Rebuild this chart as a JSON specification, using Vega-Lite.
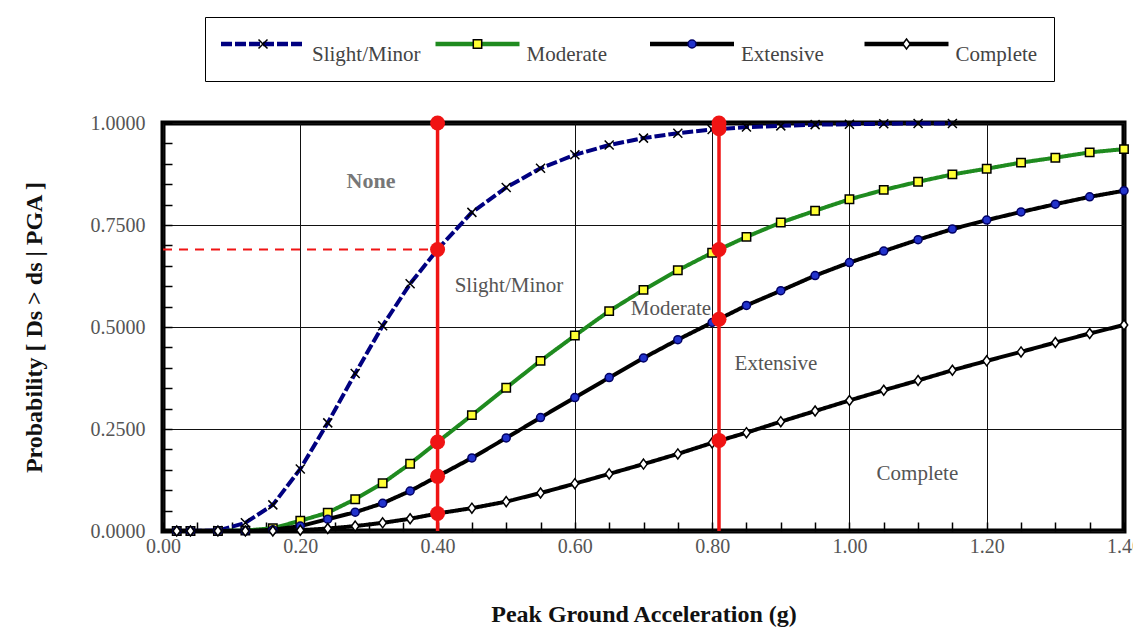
{
  "$schema": "https://vega.github.io/schema/vega-lite/v6.json",
  "width": 961,
  "height": 408,
  "autosize": {"type": "none"},
  "padding": {"left": 163, "top": 123, "right": 9, "bottom": 97},
  "background": "white",
  "config": {
    "view": {"stroke": "black", "strokeWidth": 5},
    "font": "Liberation Serif",
    "axis": {"labelFont": "Liberation Serif", "titleFont": "Liberation Serif"},
    "legend": {"labelFont": "Liberation Serif"},
    "text": {"font": "Liberation Serif"}
  },
  "datasets": {
    "curves": [
      {"series": "Slight/Minor", "pga": 0.02, "p": 0},
      {"series": "Slight/Minor", "pga": 0.04, "p": 0},
      {"series": "Slight/Minor", "pga": 0.08, "p": 0.001},
      {"series": "Slight/Minor", "pga": 0.12, "p": 0.02},
      {"series": "Slight/Minor", "pga": 0.16, "p": 0.064},
      {"series": "Slight/Minor", "pga": 0.20, "p": 0.152},
      {"series": "Slight/Minor", "pga": 0.24, "p": 0.265},
      {"series": "Slight/Minor", "pga": 0.28, "p": 0.386},
      {"series": "Slight/Minor", "pga": 0.32, "p": 0.503},
      {"series": "Slight/Minor", "pga": 0.36, "p": 0.606},
      {"series": "Slight/Minor", "pga": 0.40, "p": 0.69},
      {"series": "Slight/Minor", "pga": 0.45, "p": 0.781},
      {"series": "Slight/Minor", "pga": 0.50, "p": 0.842},
      {"series": "Slight/Minor", "pga": 0.55, "p": 0.889},
      {"series": "Slight/Minor", "pga": 0.60, "p": 0.922},
      {"series": "Slight/Minor", "pga": 0.65, "p": 0.946},
      {"series": "Slight/Minor", "pga": 0.70, "p": 0.963},
      {"series": "Slight/Minor", "pga": 0.75, "p": 0.975},
      {"series": "Slight/Minor", "pga": 0.80, "p": 0.984},
      {"series": "Slight/Minor", "pga": 0.85, "p": 0.99},
      {"series": "Slight/Minor", "pga": 0.90, "p": 0.993},
      {"series": "Slight/Minor", "pga": 0.95, "p": 0.996},
      {"series": "Slight/Minor", "pga": 1.00, "p": 0.997},
      {"series": "Slight/Minor", "pga": 1.05, "p": 0.998},
      {"series": "Slight/Minor", "pga": 1.10, "p": 0.999},
      {"series": "Slight/Minor", "pga": 1.15, "p": 0.999},
      {"series": "Moderate", "pga": 0.02, "p": 0},
      {"series": "Moderate", "pga": 0.04, "p": 0},
      {"series": "Moderate", "pga": 0.08, "p": 0},
      {"series": "Moderate", "pga": 0.12, "p": 0.001},
      {"series": "Moderate", "pga": 0.16, "p": 0.007},
      {"series": "Moderate", "pga": 0.20, "p": 0.025},
      {"series": "Moderate", "pga": 0.24, "p": 0.045},
      {"series": "Moderate", "pga": 0.28, "p": 0.078},
      {"series": "Moderate", "pga": 0.32, "p": 0.117},
      {"series": "Moderate", "pga": 0.36, "p": 0.165},
      {"series": "Moderate", "pga": 0.40, "p": 0.218},
      {"series": "Moderate", "pga": 0.45, "p": 0.284},
      {"series": "Moderate", "pga": 0.50, "p": 0.351},
      {"series": "Moderate", "pga": 0.55, "p": 0.417},
      {"series": "Moderate", "pga": 0.60, "p": 0.479},
      {"series": "Moderate", "pga": 0.65, "p": 0.539},
      {"series": "Moderate", "pga": 0.70, "p": 0.591},
      {"series": "Moderate", "pga": 0.75, "p": 0.639},
      {"series": "Moderate", "pga": 0.80, "p": 0.682},
      {"series": "Moderate", "pga": 0.85, "p": 0.721},
      {"series": "Moderate", "pga": 0.90, "p": 0.756},
      {"series": "Moderate", "pga": 0.95, "p": 0.785},
      {"series": "Moderate", "pga": 1.00, "p": 0.813},
      {"series": "Moderate", "pga": 1.05, "p": 0.836},
      {"series": "Moderate", "pga": 1.10, "p": 0.856},
      {"series": "Moderate", "pga": 1.15, "p": 0.874},
      {"series": "Moderate", "pga": 1.20, "p": 0.888},
      {"series": "Moderate", "pga": 1.25, "p": 0.903},
      {"series": "Moderate", "pga": 1.30, "p": 0.915},
      {"series": "Moderate", "pga": 1.35, "p": 0.928},
      {"series": "Moderate", "pga": 1.40, "p": 0.936},
      {"series": "Extensive", "pga": 0.02, "p": 0},
      {"series": "Extensive", "pga": 0.04, "p": 0},
      {"series": "Extensive", "pga": 0.08, "p": 0},
      {"series": "Extensive", "pga": 0.12, "p": 0},
      {"series": "Extensive", "pga": 0.16, "p": 0.003},
      {"series": "Extensive", "pga": 0.20, "p": 0.012},
      {"series": "Extensive", "pga": 0.24, "p": 0.029},
      {"series": "Extensive", "pga": 0.28, "p": 0.046},
      {"series": "Extensive", "pga": 0.32, "p": 0.068},
      {"series": "Extensive", "pga": 0.36, "p": 0.098},
      {"series": "Extensive", "pga": 0.40, "p": 0.134},
      {"series": "Extensive", "pga": 0.45, "p": 0.179},
      {"series": "Extensive", "pga": 0.50, "p": 0.228},
      {"series": "Extensive", "pga": 0.55, "p": 0.278},
      {"series": "Extensive", "pga": 0.60, "p": 0.327},
      {"series": "Extensive", "pga": 0.65, "p": 0.376},
      {"series": "Extensive", "pga": 0.70, "p": 0.424},
      {"series": "Extensive", "pga": 0.75, "p": 0.469},
      {"series": "Extensive", "pga": 0.80, "p": 0.511},
      {"series": "Extensive", "pga": 0.85, "p": 0.553},
      {"series": "Extensive", "pga": 0.90, "p": 0.589},
      {"series": "Extensive", "pga": 0.95, "p": 0.626},
      {"series": "Extensive", "pga": 1.00, "p": 0.658},
      {"series": "Extensive", "pga": 1.05, "p": 0.686},
      {"series": "Extensive", "pga": 1.10, "p": 0.714},
      {"series": "Extensive", "pga": 1.15, "p": 0.740},
      {"series": "Extensive", "pga": 1.20, "p": 0.762},
      {"series": "Extensive", "pga": 1.25, "p": 0.782},
      {"series": "Extensive", "pga": 1.30, "p": 0.801},
      {"series": "Extensive", "pga": 1.35, "p": 0.819},
      {"series": "Extensive", "pga": 1.40, "p": 0.834},
      {"series": "Complete", "pga": 0.02, "p": 0},
      {"series": "Complete", "pga": 0.04, "p": 0},
      {"series": "Complete", "pga": 0.08, "p": 0},
      {"series": "Complete", "pga": 0.12, "p": 0},
      {"series": "Complete", "pga": 0.16, "p": 0},
      {"series": "Complete", "pga": 0.20, "p": 0.002},
      {"series": "Complete", "pga": 0.24, "p": 0.006},
      {"series": "Complete", "pga": 0.28, "p": 0.012},
      {"series": "Complete", "pga": 0.32, "p": 0.02},
      {"series": "Complete", "pga": 0.36, "p": 0.03},
      {"series": "Complete", "pga": 0.40, "p": 0.043},
      {"series": "Complete", "pga": 0.45, "p": 0.056},
      {"series": "Complete", "pga": 0.50, "p": 0.072},
      {"series": "Complete", "pga": 0.55, "p": 0.093},
      {"series": "Complete", "pga": 0.60, "p": 0.116},
      {"series": "Complete", "pga": 0.65, "p": 0.140},
      {"series": "Complete", "pga": 0.70, "p": 0.164},
      {"series": "Complete", "pga": 0.75, "p": 0.189},
      {"series": "Complete", "pga": 0.80, "p": 0.216},
      {"series": "Complete", "pga": 0.85, "p": 0.241},
      {"series": "Complete", "pga": 0.90, "p": 0.268},
      {"series": "Complete", "pga": 0.95, "p": 0.294},
      {"series": "Complete", "pga": 1.00, "p": 0.320},
      {"series": "Complete", "pga": 1.05, "p": 0.345},
      {"series": "Complete", "pga": 1.10, "p": 0.369},
      {"series": "Complete", "pga": 1.15, "p": 0.394},
      {"series": "Complete", "pga": 1.20, "p": 0.417},
      {"series": "Complete", "pga": 1.25, "p": 0.439},
      {"series": "Complete", "pga": 1.30, "p": 0.462},
      {"series": "Complete", "pga": 1.35, "p": 0.484},
      {"series": "Complete", "pga": 1.40, "p": 0.505}
    ],
    "vlines": [
      {"pga": 0.40, "lo": 0, "hi": 1},
      {"pga": 0.81, "lo": 0, "hi": 1}
    ],
    "hline": [
      {"pga": 0, "pgaEnd": 0.40, "p": 0.69}
    ],
    "redpts": [
      {"pga": 0.40, "p": 1.0},
      {"pga": 0.40, "p": 0.69},
      {"pga": 0.40, "p": 0.218},
      {"pga": 0.40, "p": 0.134},
      {"pga": 0.40, "p": 0.043},
      {"pga": 0.81, "p": 1.0},
      {"pga": 0.81, "p": 0.986},
      {"pga": 0.81, "p": 0.69},
      {"pga": 0.81, "p": 0.519},
      {"pga": 0.81, "p": 0.222}
    ],
    "notes": [
      {"label": "Slight/Minor", "pga": 0.504, "p": 0.601},
      {"label": "Moderate", "pga": 0.740, "p": 0.544},
      {"label": "Extensive", "pga": 0.893, "p": 0.410},
      {"label": "Complete", "pga": 1.099, "p": 0.140}
    ],
    "nonelabel": [
      {"label": "None", "pga": 0.303, "p": 0.859}
    ]
  },
  "layer": [
    {
      "data": {"name": "curves"},
      "mark": {"type": "line"},
      "encoding": {
        "x": {
          "field": "pga", "type": "quantitative",
          "scale": {"domain": [0, 1.4], "nice": false, "zero": false},
          "axis": {
            "orient": "bottom",
            "values": [0, 0.05, 0.1, 0.15, 0.2, 0.25, 0.3, 0.35, 0.4, 0.45, 0.5, 0.55, 0.6, 0.65, 0.7, 0.75, 0.8, 0.85, 0.9, 0.95, 1.0, 1.05, 1.1, 1.15, 1.2, 1.25, 1.3, 1.35, 1.4],
            "labelExpr": "abs(datum.value * 5 - round(datum.value * 5)) < 0.001 ? format(datum.value, '.2f') : ''",
            "grid": true, "gridColor": "#111111", "gridWidth": 1,
            "gridOpacity": {"condition": {"test": "abs(datum.value * 5 - round(datum.value * 5)) < 0.001", "value": 1}, "value": 0},
            "ticks": true, "tickSize": -9, "tickColor": "black", "tickWidth": 1.5,
            "domain": false,
            "labelFontSize": 20, "labelColor": "#555555", "labelPadding": 14,
            "labelFlush": false, "labelOverlap": false,
            "title": "Peak Ground Acceleration (g)",
            "titleFontSize": 24, "titleFontWeight": "bold", "titleColor": "#111111",
            "titleY": 71
          }
        },
        "y": {
          "field": "p", "type": "quantitative",
          "scale": {"domain": [0, 1], "nice": false, "zero": false},
          "axis": {
            "orient": "left",
            "values": [0, 0.05, 0.1, 0.15, 0.2, 0.25, 0.3, 0.35, 0.4, 0.45, 0.5, 0.55, 0.6, 0.65, 0.7, 0.75, 0.8, 0.85, 0.9, 0.95, 1.0],
            "labelExpr": "abs(datum.value * 4 - round(datum.value * 4)) < 0.001 ? format(datum.value, '.4f') : ''",
            "grid": true, "gridColor": "#111111", "gridWidth": 1,
            "gridOpacity": {"condition": {"test": "abs(datum.value * 4 - round(datum.value * 4)) < 0.001", "value": 1}, "value": 0},
            "ticks": true, "tickSize": -9, "tickColor": "black", "tickWidth": 1.5,
            "domain": false,
            "labelFontSize": 20, "labelColor": "#555555", "labelPadding": 27,
            "labelFlush": false, "labelOverlap": false,
            "title": "Probability [ Ds > ds | PGA ]",
            "titleFontSize": 24, "titleFontWeight": "bold", "titleColor": "#111111",
            "titleX": -117
          }
        },
        "color": {
          "field": "series", "type": "nominal",
          "scale": {
            "domain": ["Slight/Minor", "Moderate", "Extensive", "Complete"],
            "range": ["#000080", "#1f8b1f", "#000000", "#000000"]
          },
          "legend": {
            "orient": "none", "legendX": 42, "legendY": -106,
            "direction": "horizontal", "columns": 4, "gridAlign": "all",
            "columnPadding": 11.5, "title": null,
            "symbolType": "M-4.2,-0.15H4.2M-4.2,-0.05H4.2M-4.2,0.05H4.2M-4.2,0.15H4.2",
            "symbolSize": 400, "symbolStrokeWidth": 1.5,
            "symbolOffset": 31, "labelOffset": 38,
            "labelFontSize": 21, "labelColor": "#444444", "labelBaseline": "top",
            "padding": 16, "strokeColor": "black",
            "encode": {"legend": {"strokeWidth": {"value": 2}}}
          }
        },
        "strokeDash": {
          "field": "series", "type": "nominal",
          "scale": {
            "domain": ["Slight/Minor", "Moderate", "Extensive", "Complete"],
            "range": [[11, 3], [1, 0], [1, 0], [1, 0]]
          },
          "legend": null
        },
        "strokeWidth": {"value": 4}
      }
    },
    {
      "data": {"name": "curves"},
      "mark": {"type": "point", "filled": true, "opacity": 1},
      "encoding": {
        "x": {"field": "pga", "type": "quantitative", "scale": {"domain": [0, 1.4], "nice": false, "zero": false}, "axis": null},
        "y": {"field": "p", "type": "quantitative", "scale": {"domain": [0, 1], "nice": false, "zero": false}, "axis": null},
        "shape": {
          "field": "series", "type": "nominal", "sort": null,
          "scale": {
            "range": [
              "M-4.2,0L-4.2,0M4.2,0L4.2,0M-0.45,-0.45L0.45,0.45M-0.45,0.45L0.45,-0.45",
              "M-4.2,0L-4.2,0M4.2,0L4.2,0M-0.42,-0.42H0.42V0.42H-0.42Z",
              "M-4.2,0L-4.2,0M4.2,0L4.2,0M-0.4,0A0.4,0.4 0 1,0 0.4,0A0.4,0.4 0 1,0 -0.4,0Z",
              "M-4.2,0L-4.2,0M4.2,0L4.2,0M0,-0.5L0.37,0L0,0.5L-0.37,0Z"
            ]
          },
          "legend": {
            "orient": "none", "legendX": 42, "legendY": -106,
            "direction": "horizontal", "columns": 4, "gridAlign": "all",
            "columnPadding": 11.5, "title": null,
            "symbolSize": 400, "symbolStrokeWidth": 1.5,
            "symbolOffset": 31, "labelOffset": 38,
            "labelFontSize": 21, "labelColor": "#444444", "labelBaseline": "top",
            "labelOpacity": 0,
            "padding": 16
          }
        },
        "fill": {
          "field": "series", "type": "nominal", "sort": null,
          "scale": {"range": ["#000000", "#ffff33", "#2233cc", "#ffffff"]}
        },
        "stroke": {
          "field": "series", "type": "nominal", "sort": null,
          "scale": {"range": ["#000000", "#000000", "#000066", "#000000"]}
        },
        "size": {"value": 400},
        "strokeWidth": {"value": 1.5}
      }
    },
    {
      "data": {"name": "vlines"},
      "mark": {"type": "rule", "color": "#f01414", "strokeWidth": 3.5},
      "encoding": {
        "x": {"field": "pga", "type": "quantitative", "scale": {"domain": [0, 1.4], "nice": false, "zero": false}, "axis": null},
        "y": {"field": "lo", "type": "quantitative", "scale": {"domain": [0, 1], "nice": false, "zero": false}, "axis": null},
        "y2": {"field": "hi"}
      }
    },
    {
      "data": {"name": "hline"},
      "mark": {"type": "rule", "color": "#f01414", "strokeWidth": 2, "strokeDash": [9, 7]},
      "encoding": {
        "x": {"field": "pga", "type": "quantitative", "scale": {"domain": [0, 1.4], "nice": false, "zero": false}, "axis": null},
        "x2": {"field": "pgaEnd"},
        "y": {"field": "p", "type": "quantitative", "scale": {"domain": [0, 1], "nice": false, "zero": false}, "axis": null}
      }
    },
    {
      "data": {"name": "redpts"},
      "mark": {"type": "circle", "color": "#f01414", "size": 225, "opacity": 1},
      "encoding": {
        "x": {"field": "pga", "type": "quantitative", "scale": {"domain": [0, 1.4], "nice": false, "zero": false}, "axis": null},
        "y": {"field": "p", "type": "quantitative", "scale": {"domain": [0, 1], "nice": false, "zero": false}, "axis": null}
      }
    },
    {
      "data": {"name": "notes"},
      "mark": {"type": "text", "fontSize": 21, "color": "#555555", "align": "center", "baseline": "middle"},
      "encoding": {
        "x": {"field": "pga", "type": "quantitative", "scale": {"domain": [0, 1.4], "nice": false, "zero": false}, "axis": null},
        "y": {"field": "p", "type": "quantitative", "scale": {"domain": [0, 1], "nice": false, "zero": false}, "axis": null},
        "text": {"field": "label"}
      }
    },
    {
      "data": {"name": "nonelabel"},
      "mark": {"type": "text", "fontSize": 22, "fontWeight": "bold", "color": "#777777", "align": "center", "baseline": "middle"},
      "encoding": {
        "x": {"field": "pga", "type": "quantitative", "scale": {"domain": [0, 1.4], "nice": false, "zero": false}, "axis": null},
        "y": {"field": "p", "type": "quantitative", "scale": {"domain": [0, 1], "nice": false, "zero": false}, "axis": null},
        "text": {"field": "label"}
      }
    }
  ],
  "resolve": {"axis": {"x": "independent", "y": "independent"}}
}
